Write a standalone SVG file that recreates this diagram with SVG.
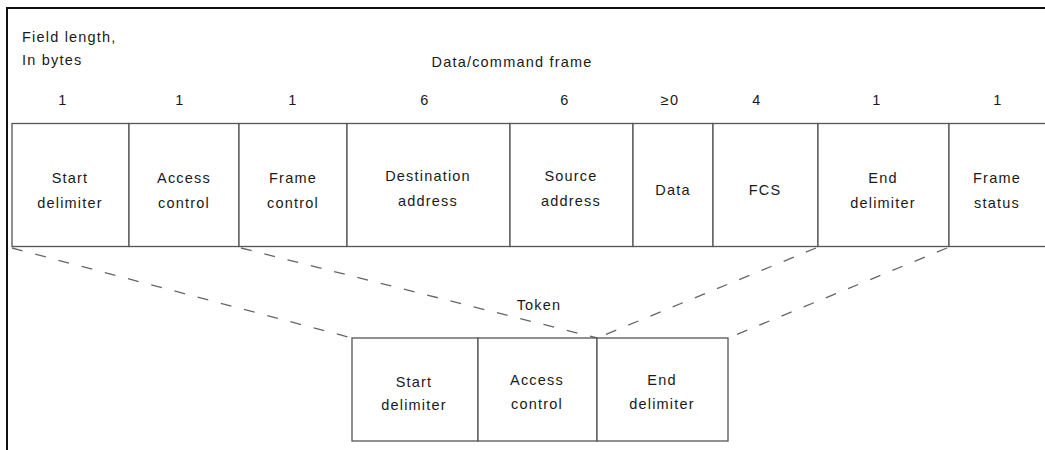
<svg xmlns="http://www.w3.org/2000/svg" width="1045" height="450" viewBox="0 0 1045 450">
<style>
.t{font-family:"Liberation Sans",Arial,sans-serif;font-size:14.5px;fill:#1a1a1a;letter-spacing:1.2px}
.c{text-anchor:middle}
.box{fill:#fff;stroke:#555;stroke-width:1.3}
.frame{fill:none;stroke:#111;stroke-width:2}
.dash{fill:none;stroke:#666;stroke-width:1.3;stroke-dasharray:11 13}
</style>
<rect width="1045" height="450" fill="#fff"/>
<path class="frame" d="M7,450 V8 H1045"/>
<g id="labels">
<text class="t" x="22" y="42">Field length,</text>
<text class="t" x="22" y="65">In bytes</text>
<text class="t c" x="512" y="67">Data/command frame</text>
<text class="t c" x="63" y="105">1</text>
<text class="t c" x="180" y="105">1</text>
<text class="t c" x="293" y="105">1</text>
<text class="t c" x="425" y="105">6</text>
<text class="t c" x="565" y="105">6</text>
<text class="t c" x="670" y="105">≥0</text>
<text class="t c" x="757" y="105">4</text>
<text class="t c" x="877" y="105">1</text>
<text class="t c" x="998" y="105">1</text>
<text class="t c" x="539" y="310">Token</text>
</g>
<g id="connectors">
<path class="dash" d="M12,248 L352,338"/>
<path class="dash" d="M241,248 L597,338"/>
<path class="dash" d="M816,248 L597,338"/>
<path class="dash" d="M947,248 L728,338"/>
</g>
<g id="start-delimiter">
<rect class="box" x="12" y="123.5" width="117" height="123"/>
<text class="t c" x="70" y="183">Start</text>
<text class="t c" x="70" y="208">delimiter</text>
</g>
<g id="access-control">
<rect class="box" x="129" y="123.5" width="110" height="123"/>
<text class="t c" x="184" y="183">Access</text>
<text class="t c" x="184" y="208">control</text>
</g>
<g id="frame-control">
<rect class="box" x="239" y="123.5" width="108" height="123"/>
<text class="t c" x="293" y="183">Frame</text>
<text class="t c" x="293" y="208">control</text>
</g>
<g id="destination-address">
<rect class="box" x="347" y="123.5" width="163" height="123"/>
<text class="t c" x="428" y="181">Destination</text>
<text class="t c" x="428" y="206">address</text>
</g>
<g id="source-address">
<rect class="box" x="510" y="123.5" width="123" height="123"/>
<text class="t c" x="571" y="181">Source</text>
<text class="t c" x="571" y="206">address</text>
</g>
<g id="data">
<rect class="box" x="633" y="123.5" width="80" height="123"/>
<text class="t c" x="673" y="195">Data</text>
</g>
<g id="fcs">
<rect class="box" x="713" y="123.5" width="105" height="123"/>
<text class="t c" x="765" y="195">FCS</text>
</g>
<g id="end-delimiter">
<rect class="box" x="818" y="123.5" width="131" height="123" stroke-width="1.8"/>
<text class="t c" x="883" y="183">End</text>
<text class="t c" x="883" y="208">delimiter</text>
</g>
<g id="frame-status">
<rect class="box" x="949" y="123.5" width="100" height="123"/>
<text class="t c" x="997" y="183">Frame</text>
<text class="t c" x="997" y="208">status</text>
</g>
<g id="token-start-delimiter">
<rect class="box" x="352" y="338" width="126" height="103"/>
<text class="t c" x="414" y="387">Start</text>
<text class="t c" x="414" y="410">delimiter</text>
</g>
<g id="token-access-control">
<rect class="box" x="478" y="338" width="119" height="103"/>
<text class="t c" x="537" y="385">Access</text>
<text class="t c" x="537" y="409">control</text>
</g>
<g id="token-end-delimiter">
<rect class="box" x="597" y="338" width="131" height="103"/>
<text class="t c" x="662" y="385">End</text>
<text class="t c" x="662" y="409">delimiter</text>
</g>
</svg>
